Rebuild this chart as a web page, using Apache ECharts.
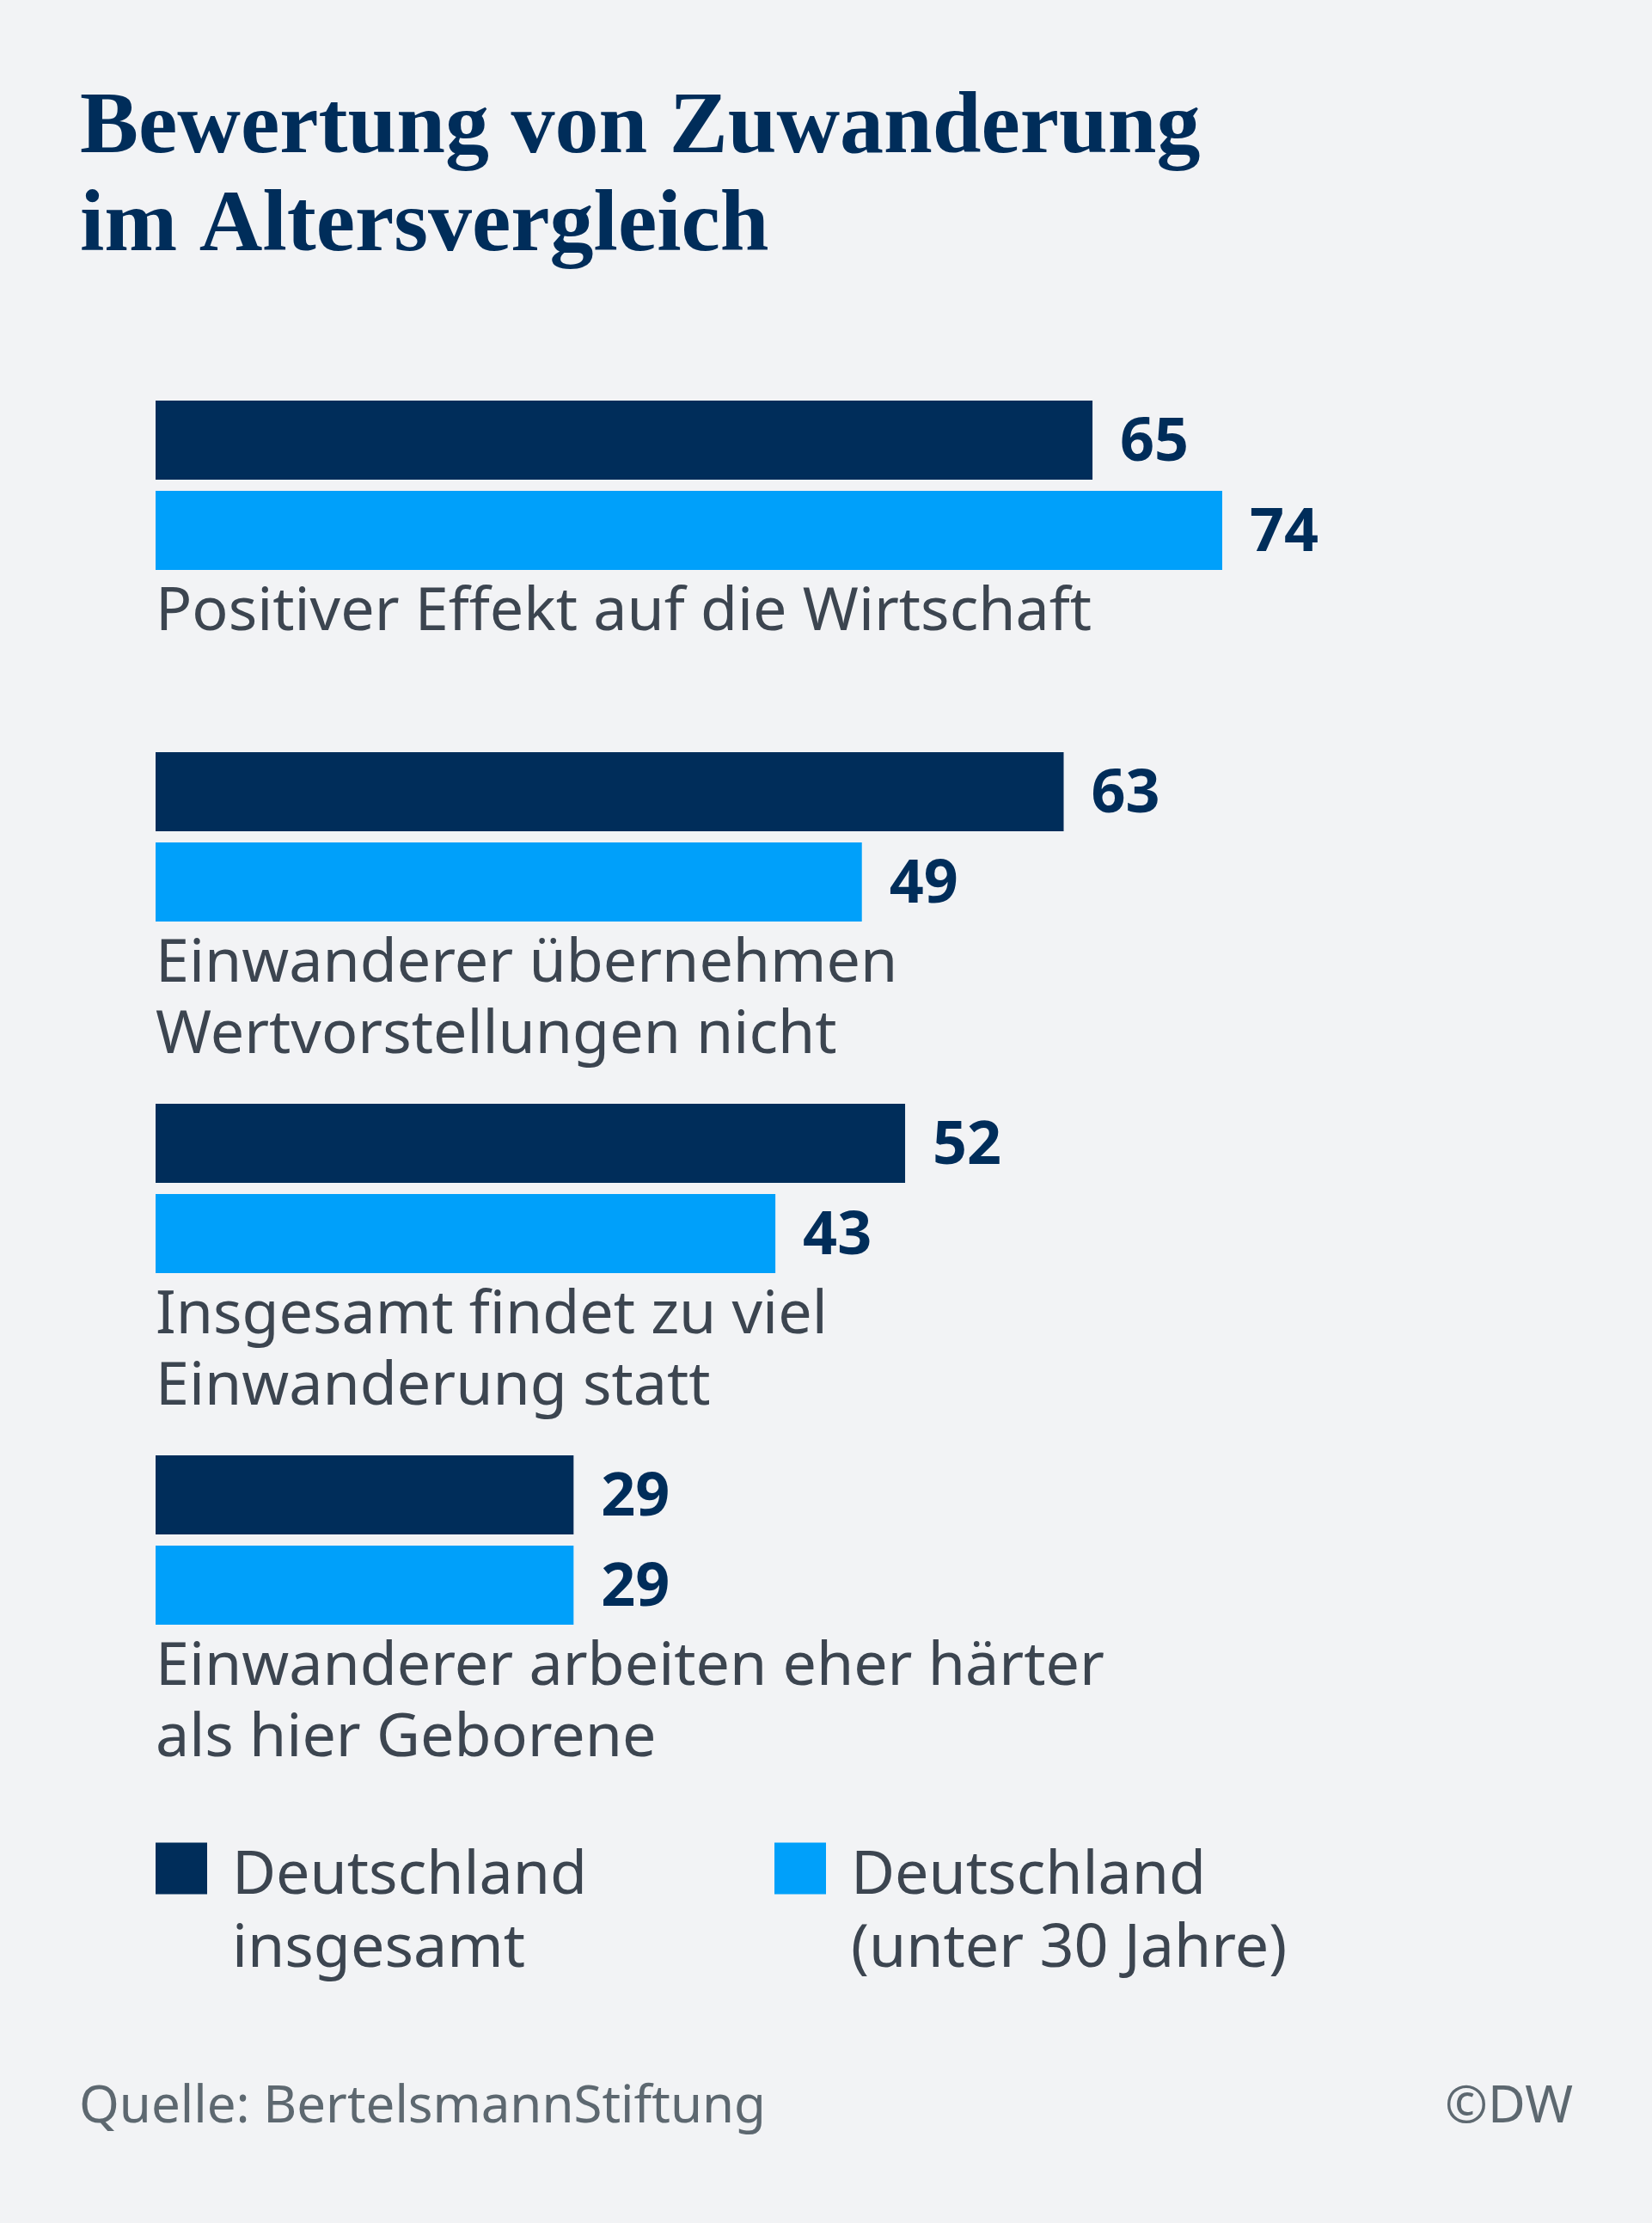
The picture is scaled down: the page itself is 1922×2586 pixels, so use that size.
<!DOCTYPE html>
<html>
<head>
<meta charset="utf-8">
<script src="https://cdn.jsdelivr.net/npm/echarts@6/dist/echarts.min.js"></script>
<style>
html,body{margin:0;padding:0;background:#f2f3f5;}
#c{width:1922px;height:2586px;}
</style>
</head>
<body>
<div id="c"></div>
<script>
const titleText = 'Bewertung von Zuwanderung\nim Altersvergleich';
const sourceText = 'Quelle: BertelsmannStiftung';
const creditText = '©DW';
const categories = [
  'Positiver Effekt auf die Wirtschaft',
  'Einwanderer übernehmen\nWertvorstellungen nicht',
  'Insgesamt findet zu viel\nEinwanderung statt',
  'Einwanderer arbeiten eher härter\nals hier Geborene'
];
const seriesNames = ['Deutschland\ninsgesamt', 'Deutschland\n(unter 30 Jahre)'];
const valuesTotal = [65, 63, 52, 29];
const valuesUnder30 = [74, 49, 43, 29];

const NAVY = '#002d5a';
const BLUE = '#00a0fa';
const GREY = '#3c4550';
const SANS = '"Noto Sans", "Open Sans", sans-serif';

const chart = echarts.init(document.getElementById('c'), null, {renderer: 'canvas'});
const valueLabel = {
  show: true, position: 'right', distance: 32, offset: [0, 4],
  fontFamily: SANS, fontWeight: 'bold', fontSize: 70, color: NAVY
};
const legendText = {
  fontFamily: SANS, fontSize: 70, lineHeight: 85, color: GREY,
  padding: [105, 0, 0, 24],
  rich: {t: {fontFamily: SANS, fontSize: 70, lineHeight: 85, color: GREY}}
};
const legendFmt = name => '{t|' + name + '}';
chart.setOption({
  backgroundColor: '#f2f3f5',
  animation: false,
  title: [
    {text: titleText, left: 93, top: 94, padding: 0,
     textStyle: {fontFamily: '"Liberation Serif", serif', fontWeight: 'bold', fontSize: 102, lineHeight: 114, color: NAVY}},
    {text: sourceText, left: 92, top: 2417, padding: 0,
     textStyle: {fontFamily: SANS, fontWeight: 'normal', fontSize: 60, lineHeight: 70, color: '#5d6870'}},
    {text: creditText, right: 92, top: 2417, padding: 0,
     textStyle: {fontFamily: SANS, fontWeight: 'normal', fontSize: 60, lineHeight: 70, color: '#5d6870'}}
  ],
  legend: [
    {data: [seriesNames[0]], left: 181, top: 2036, itemWidth: 60, itemHeight: 60, icon: 'rect',
     selectedMode: false, padding: 0, textStyle: legendText, formatter: legendFmt},
    {data: [seriesNames[1]], left: 901, top: 2036, itemWidth: 60, itemHeight: 60, icon: 'rect',
     selectedMode: false, padding: 0, textStyle: legendText, formatter: legendFmt}
  ],
  grid: {left: 181, right: 64, top: 360, height: 1636, containLabel: false},
  xAxis: {type: 'value', min: 0, max: 100, show: false},
  yAxis: {
    type: 'category', inverse: true, data: categories,
    axisLine: {show: false}, axisTick: {show: false}, splitLine: {show: false},
    axisLabel: {
      inside: true, margin: 0, interval: 0, align: 'left', verticalAlign: 'top',
      padding: [107, 0, 0, 0],
      fontFamily: SANS, fontSize: 70, lineHeight: 83, color: GREY
    }
  },
  series: [
    {name: seriesNames[0], type: 'bar', data: valuesTotal, barWidth: 92, barGap: '14%',
     itemStyle: {color: NAVY}, label: valueLabel},
    {name: seriesNames[1], type: 'bar', data: valuesUnder30, barWidth: 92, barGap: '14%',
     itemStyle: {color: BLUE}, label: valueLabel}
  ]
});
</script>
</body>
</html>
